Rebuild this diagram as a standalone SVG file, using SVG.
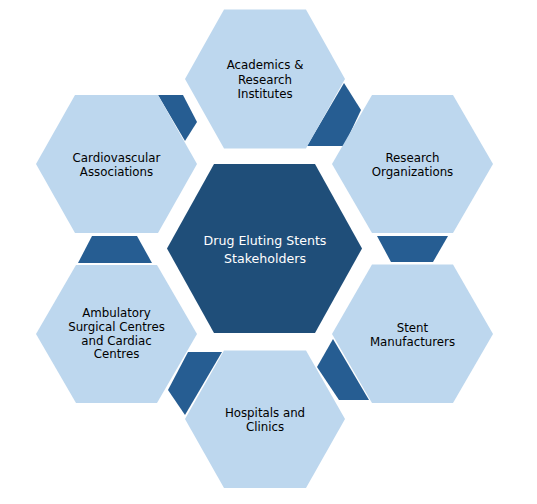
<svg xmlns="http://www.w3.org/2000/svg" width="537" height="504" viewBox="0 0 537 504">
<style>
.hex{fill:#BDD7EE}
.ctr{fill:#1F4E79}
.con{fill:#265D92}
text{font-family:"DejaVu Sans",Verdana,sans-serif;font-size:11.8px;fill:#000;text-anchor:middle}
.w{fill:#fff;font-size:12.6px}
</style>
<rect width="537" height="504" fill="#fff"/>
<g id="connectors">
<polygon class="con" points="158,95 183,95 197,122 185,141"/>
<polygon class="con" points="344,83 361,110 344,146 307,146"/>
<polygon class="con" points="377,236 448,236 433,262 391,262"/>
<polygon class="con" points="333,339 317,367 339,400 369,400"/>
<polygon class="con" points="188,352 222,352 185,415 168,390"/>
<polygon class="con" points="92,236 137,236 152,263 78,263"/>
</g>
<g id="center">
<polygon class="ctr" points="167,248.5 214,164 315,164 362,248.5 315,333 214,333"/>
<text class="w" x="265" y="244.5">Drug Eluting Stents</text>
<text class="w" x="265" y="263">Stakeholders</text>
</g>
<g id="academics">
<polygon class="hex" points="185,79 224,9.5 306,9.5 345,79 306,148.5 224,148.5"/>
<text x="265" y="69">Academics &amp;</text>
<text x="265" y="83.5">Research</text>
<text x="265" y="98">Institutes</text>
</g>
<g id="research-org">
<polygon class="hex" points="332,164 372,95 453,95 493,164 453,233 372,233"/>
<text x="412.5" y="162">Research</text>
<text x="412.5" y="176">Organizations</text>
</g>
<g id="stent-manufacturers">
<polygon class="hex" points="332,334 372,264.5 453,264.5 493,334 453,403 372,403"/>
<text x="412.5" y="331.5">Stent</text>
<text x="412.5" y="345.5">Manufacturers</text>
</g>
<g id="hospitals">
<polygon class="hex" points="185,419 224,350.5 306,350.5 345,419 306,488 224,488"/>
<text x="265" y="416.5">Hospitals and</text>
<text x="265" y="431">Clinics</text>
</g>
<g id="ambulatory">
<polygon class="hex" points="36,334 76,265 157,265 197,334 157,403 76,403"/>
<text x="116.5" y="317">Ambulatory</text>
<text x="116.5" y="331">Surgical Centres</text>
<text x="116.5" y="344.5">and Cardiac</text>
<text x="116.5" y="358">Centres</text>
</g>
<g id="cardiovascular">
<polygon class="hex" points="36,164 75,95 158,95 197,164 158,233 75,233"/>
<text x="116.5" y="162">Cardiovascular</text>
<text x="116.5" y="175.5">Associations</text>
</g>
</svg>
